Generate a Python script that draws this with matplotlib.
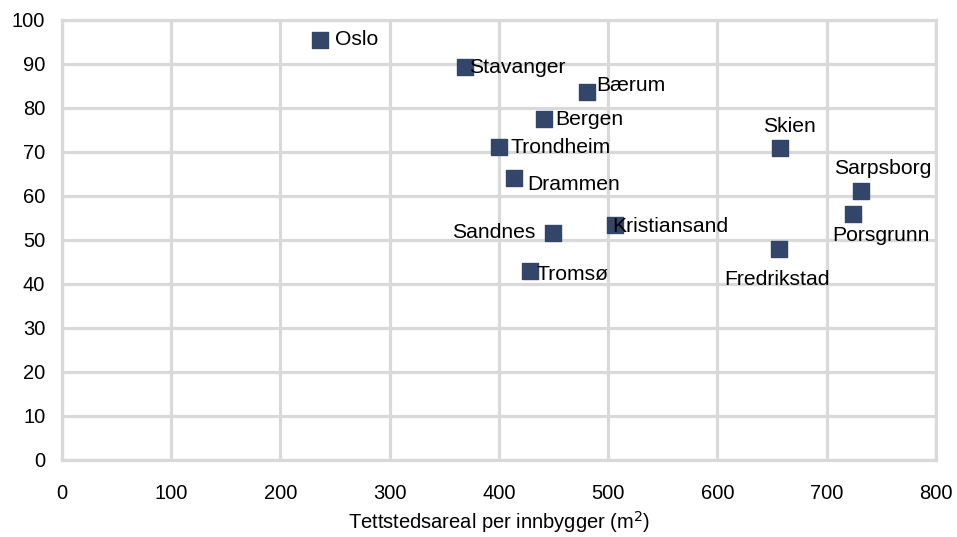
import matplotlib.pyplot as plt

byer = ['Oslo', 'Stavanger', 'Bærum', 'Bergen', 'Trondheim', 'Drammen', 'Skien',
        'Sarpsborg', 'Porsgrunn', 'Kristiansand', 'Sandnes', 'Fredrikstad', 'Tromsø']
areal = [236, 369, 481, 441, 400, 414, 657, 731, 724, 506, 449, 656, 428]
verdi = [95.5, 89.2, 83.6, 77.4, 71.1, 64.2, 70.8, 61.1, 56.0, 53.3, 51.7, 48.0, 43.0]

# forskyvning for etikettene (punkter) og justering
etikett_pos = {
    'Oslo': (11, 0, 'left'), 'Stavanger': (3, 0, 'left'), 'Bærum': (6, 5, 'left'),
    'Bergen': (8, 0, 'left'), 'Trondheim': (8, 0, 'left'), 'Drammen': (9, -5, 'left'),
    'Skien': (7, 16, 'center'), 'Sarpsborg': (16, 16, 'center'),
    'Porsgrunn': (20, -16, 'center'), 'Kristiansand': (-2, -1, 'left'),
    'Sandnes': (-12, 0, 'right'), 'Fredrikstad': (-1, -22, 'center'),
    'Tromsø': (5, -3, 'left'),
}

plt.rcParams['font.family'] = ['Liberation Sans', 'DejaVu Sans']
plt.rcParams['font.size'] = 14.5

fig = plt.figure(figsize=(9.57, 5.37), dpi=100)
ax = fig.add_axes([0.0648, 0.1434, 0.9132, 0.8194])

grid = '#d9d9d9'
ax.scatter(areal, verdi, marker='s', s=130, color='#33466a', zorder=3)

for navn, x, y in zip(byer, areal, verdi):
    dx, dy, ha = etikett_pos[navn]
    ax.annotate(navn, (x, y), xytext=(dx, dy), textcoords='offset points',
                ha=ha, va='center', fontsize=15.2, zorder=4)

ax.set_xlim(0, 800)
ax.set_ylim(0, 100)
ax.set_xticks(range(0, 801, 100))
ax.set_yticks(range(0, 101, 10))
ax.grid(True, color=grid, linewidth=2.3)
ax.set_axisbelow(True)
for s in ax.spines.values():
    s.set_color(grid)
    s.set_linewidth(2.3)
ax.tick_params(length=0)
ax.tick_params(axis='y', pad=12)
ax.tick_params(axis='x', pad=17)
ax.set_xlabel('Tettstedsareal per innbygger (m$^2$)', labelpad=5)

fig.savefig('out.png', dpi=100)
